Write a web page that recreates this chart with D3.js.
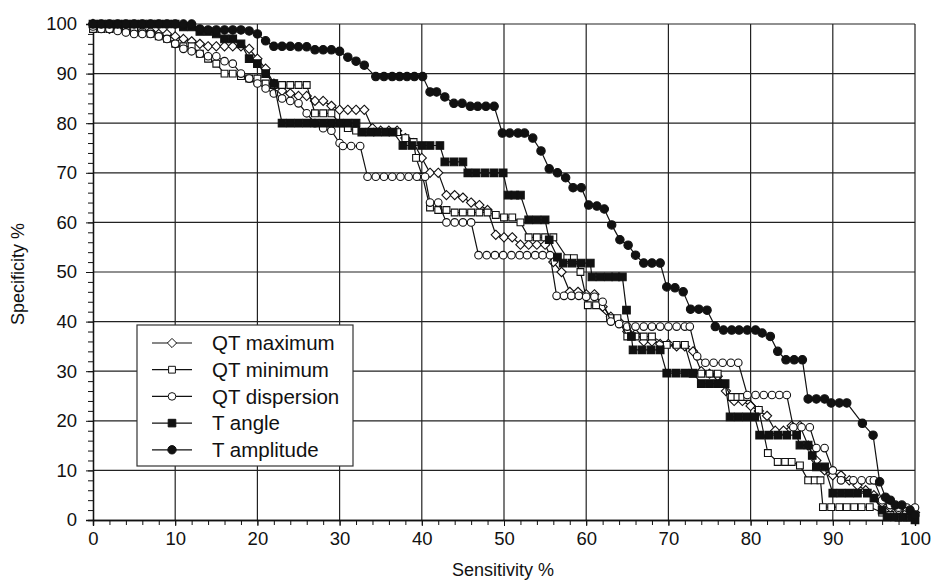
<!DOCTYPE html>
<html>
<head>
<meta charset="utf-8">
<script src="https://cdn.jsdelivr.net/npm/d3@7"></script>
<style>
  body { margin: 0; background: #fff; }
  text { font-family: "Liberation Sans", Arial, Helvetica, sans-serif; fill: #111; }
</style>
</head>
<body>
<script>
// [sensitivity %, specificity %]
const qtMaximum = [[0,100],[1,99.5],[2,99],[3,99],[4,98.5],[5,98.5],[6,98.5],[7,98.5],[8,98],[9,98],[10,97.5],[11,97],[12,96.5],[13,96],[14,95.5],[15,95.5],[16,95.5],[17,95.5],[18,95.5],[19,95],[20,93],[21,91],[22,88],[23,86.5],[24,86],[25,85.5],[26,85.5],[27,84.5],[28,84.5],[29,83.5],[30,82.7],[31,82.7],[32,82.7],[33,82.7],[34,79],[35,78.5],[36,78.5],[37,78.5],[38,77],[39,76],[40,73],[41,70],[42,70],[43,65.5],[44,65.5],[45,65],[46,64],[47,63.5],[48,62.5],[49,57.5],[50,57],[51,57],[52,55.5],[53,55.5],[54,55.5],[55,55.5],[56,52],[57,50],[58,46],[59,46],[60,45.5],[61,45.5],[62,43],[63,41],[64,40],[65,38],[66,37.5],[67,36],[68,36],[69,35.5],[70,35.5],[71,35],[72,35],[73,34],[74,30],[75,29.5],[76,29],[77,26],[78,24],[79,24],[80,23],[81,22],[82,21],[83,18],[84,18],[85,19],[86,19],[87,15],[88,12],[89,10],[90,9],[91,9],[92,8],[93,7],[94,6],[95,5],[96,3.5],[97,2.5],[98,2],[99,1.5],[100,1.5]];

const qtMinimum = [[0,99],[1,99],[2,99],[3,99],[4,99],[5,98.6],[6,98.3],[7,98],[8,97.5],[9,97],[10,96],[11,95.5],[12,95.5],[13,94],[14,93],[15,92],[16,90],[17,90],[18,89.5],[19,89],[20,89],[21,88],[22,87.7],[23,87.7],[24,87.7],[25,87.7],[26,87.7],[27,82],[28,82],[29,82],[30,80],[31,79],[32,78.5],[33,78.2],[34,78.2],[35,78.2],[36,78.2],[37,78.2],[38,77],[39,76.2],[39.3,73],[40.1,69.2],[41,63],[42,62.5],[43,62.5],[44,62],[45,62],[46,62],[47,62],[48,62],[49,61.5],[50,61],[51,61],[52,60],[53,57],[54,57],[55,57],[56,57],[57.7,52.8],[58.5,52.8],[59.3,50],[60.2,43.3],[61.2,43.3],[62.9,40.7],[63.8,40.7],[65,37],[66,37],[67,37],[68,37],[69.8,35.3],[71,35.3],[72,35.3],[73,29.5],[74,29.5],[75,29.5],[76,29.5],[77.7,24.8],[78.4,24.8],[79,24.8],[79.6,24.8],[81,22.2],[82.1,13.5],[83.3,11.7],[84.2,11.7],[85,11.7],[86,11],[87,8],[87.8,8],[88.5,8],[88.8,2.6],[89.8,2.6],[90.8,2.6],[91.7,2.6],[92.6,2.6],[93.5,2.6],[94.5,2.6],[96,1.5],[97,1],[98,0.5],[99,0.5],[100,0]];

const qtDispersion = [[0,99.5],[1,99],[2,99],[3,98.6],[4,98.3],[5,98],[6,98],[7,98],[8,97.5],[9,97],[10,96],[11,95],[12,94.5],[13,94],[14,93.5],[15,93.5],[16,92.5],[17,92],[18,90],[19,89],[20,88],[21,87],[22,86],[23,85],[24,84.5],[25,84],[26,82],[27,80],[28,79],[29,78.5],[30,76],[30.4,75.4],[31.4,75.4],[32.5,75.4],[33.4,69.2],[34.4,69.2],[35.4,69.2],[36.4,69.2],[37.4,69.2],[38.4,69.2],[39.4,69.2],[40.4,69.2],[41,64],[42,64],[43,60],[44,60],[45,60],[46,60],[46.9,53.4],[47.9,53.4],[48.9,53.4],[49.9,53.4],[50.9,53.4],[51.9,53.4],[52.8,53.4],[53.8,53.4],[54.7,53.4],[55.6,53.4],[56.4,45.2],[57.3,45.2],[58.2,45.2],[59.1,45.2],[60,45],[61,45],[62,44],[63,40],[64,39.5],[65,39],[66,39],[67,39],[68,39],[69,39],[70,39],[71,39],[72,39],[72.6,39],[73.5,33],[74.5,31.7],[75.5,31.7],[76.6,31.7],[77.6,31.7],[78.5,31.7],[79.6,25.2],[80.6,25.2],[81.6,25.2],[82.6,25.2],[83.5,25.2],[84.4,25.2],[85.2,18.7],[86.2,18.7],[87.2,18.7],[88,14.5],[89,14.5],[90,10],[91,8],[92.5,8],[93.5,8],[94.5,8],[95,8],[96,4],[97,3],[98,2.5],[99,2.5],[100,2.5]];

const tAngle = [[0,100],[1,100],[2,100],[3,100],[4,100],[5,100],[6,100],[7,100],[8,100],[9,100],[10,100],[11,99.4],[12,99.4],[13,98.5],[14,98.5],[15,98],[16,97],[17,97],[18,96],[19,93],[20,92],[21,90],[22,88],[23,80],[24,80],[25,80],[26,80],[27,80],[28,80],[29,80],[30,80],[31,80],[32,80],[32.7,78.2],[33.7,78.2],[34.6,78.2],[35.6,78.2],[36.5,78.2],[37.7,75.5],[38.8,75.5],[40,75.5],[41,75.5],[42.2,75.5],[42.8,72.2],[43.9,72.2],[45,72.2],[45.6,70],[46.6,70],[47.7,70],[48.8,70],[49.9,70],[50.5,65.5],[51.3,65.5],[52,65.5],[53,60.5],[54,60.5],[55,60.5],[55.5,56.5],[56.5,53],[57.2,51.8],[58.3,51.8],[59.4,51.8],[60.5,51.8],[60.7,49],[61.7,49],[62.7,49],[63.6,49],[64.4,49],[64.9,42.3],[65.5,37],[65.7,34.3],[66.8,34.3],[67.9,34.3],[69,34.3],[69.8,29.6],[70.9,29.6],[72,29.6],[73,29.6],[74,27.5],[75,27.5],[76,27.5],[76.9,27.5],[77.5,20.8],[78.5,20.8],[79.5,20.8],[80.5,20.8],[81.1,17.1],[82.2,17.1],[83.3,17.1],[84.4,17.1],[85.6,17.1],[86,15.1],[87,15.1],[87.5,13],[88,10.7],[89,10.7],[90,5.4],[91,5.4],[92,5.4],[93,5.4],[94.2,5.4],[95,4.4],[96,2],[96.6,0.6],[97.5,0.6],[98.5,0.6],[99.5,0.6],[100,0]];

const tAmplitude = [[0,100],[1,100],[2,100],[3,100],[4,100],[5,100],[6,100],[7,100],[8,100],[9,100],[10,100],[11,100],[12,100],[13,99],[14,98.8],[15,98.8],[16,98.8],[17,98.8],[18,98.8],[19,98.6],[20,98],[21,96.6],[22,95.5],[23,95.5],[24,95.5],[25,95.4],[26,95.4],[27,94.8],[28,94.8],[29,94.8],[30,94.5],[31,93.3],[32,92.5],[33,91.7],[34.4,89.4],[35.4,89.4],[36.4,89.4],[37.3,89.4],[38.2,89.4],[39.1,89.4],[40.1,89.4],[41,86.3],[41.8,86.3],[42.8,85.3],[43.9,84],[44.9,84],[45.9,83.4],[46.8,83.4],[47.8,83.4],[48.8,83.4],[49.8,78],[50.7,78],[51.7,78],[52.5,78],[53.5,77],[54.5,74.4],[55.5,70.8],[56.5,70],[57.5,69],[58.4,67],[59.4,67],[60.3,63.5],[61.3,63.3],[62.2,62.7],[63.1,59.5],[64.1,56.5],[65.1,55.4],[66,53.4],[67,51.8],[68,51.8],[69,51.8],[69.8,47],[70.8,46.8],[71.8,46],[72.7,42.5],[73.7,42.5],[74.7,42.3],[75.7,39],[76.7,38.3],[77.7,38.3],[78.6,38.3],[79.6,38.3],[80.6,38.3],[81.4,37.7],[82.4,37],[83.3,34],[84.3,32.3],[85.3,32.3],[86.3,32.3],[87,24.4],[88,24.4],[89,24.4],[89.8,23.6],[90.8,23.6],[91.7,23.6],[93.6,19.5],[94.9,17.1],[95.7,7.7],[96.4,4.6],[97,4],[97.6,3],[98.4,3],[99.4,2],[100,1]];

const seriesNames = ["QT maximum", "QT minimum", "QT dispersion", "T angle", "T amplitude"];
const seriesMarkers = ["diamond", "square", "circle", "square", "circle"];
const seriesFilled = [false, false, false, true, true];
const seriesData = [qtMaximum, qtMinimum, qtDispersion, tAngle, tAmplitude];

const ticks = d3.range(0, 101, 10);
const minorTicks = d3.range(0, 101, 2);

const margin = { top: 24, right: 19, bottom: 61, left: 93 };
const width = 934 - margin.left - margin.right;
const height = 581 - margin.top - margin.bottom;

const x = d3.scaleLinear().domain([0, 100]).range([0, width]);
const y = d3.scaleLinear().domain([0, 100]).range([height, 0]);

const svg = d3.select("body")
  .append("svg")
  .attr("width", 934)
  .attr("height", 581)
  .append("g")
  .attr("transform", `translate(${ margin.left }, ${ margin.top })`);

// grid
svg.append("g")
  .selectAll("line")
  .data(ticks.slice(1))
  .enter().append("line")
  .attr("x1", d => x(d)).attr("x2", d => x(d))
  .attr("y1", 0).attr("y2", height)
  .attr("stroke", "#222").attr("stroke-width", 1.2);

svg.append("g")
  .selectAll("line")
  .data(ticks.slice(1))
  .enter().append("line")
  .attr("x1", 0).attr("x2", width)
  .attr("y1", d => y(d)).attr("y2", d => y(d))
  .attr("stroke", "#222").attr("stroke-width", 1.2);

// axes
const xMinor = svg.append("g")
  .attr("transform", `translate(0, ${ height })`)
  .call(d3.axisBottom(x).tickValues(minorTicks).tickSize(5).tickFormat(""));
const xMajor = svg.append("g")
  .attr("transform", `translate(0, ${ height })`)
  .call(d3.axisBottom(x).tickValues(ticks).tickSize(6).tickPadding(6));
const yMinor = svg.append("g")
  .call(d3.axisLeft(y).tickValues(minorTicks).tickSize(5).tickFormat(""));
const yMajor = svg.append("g")
  .call(d3.axisLeft(y).tickValues(ticks).tickSize(7).tickPadding(9));

[xMinor, xMajor, yMinor, yMajor].forEach(g => {
  g.select(".domain").attr("stroke", "#111").attr("stroke-width", 1.3);
  g.selectAll(".tick line").attr("stroke", "#111");
  g.selectAll("text").style("font-size", "18.5px").attr("fill", "#111")
    .style("font-family", "'Liberation Sans', Arial, sans-serif");
});

svg.append("text")
  .attr("transform", "rotate(-90)")
  .attr("x", -height / 2 - 2)
  .attr("y", -margin.left + 24)
  .style("text-anchor", "middle")
  .style("font-size", "18px")
  .text("Specificity %");

svg.append("text")
  .attr("x", width / 2 - 1)
  .attr("y", height + 56)
  .style("text-anchor", "middle")
  .style("font-size", "18px")
  .text("Sensitivity %");

// markers
function markerPath(type, filled) {
  if (type === "diamond") return "M0,-4.6L4.6,0L0,4.6L-4.6,0Z";
  if (type === "square") return filled ? "M-3.8,-3.8H3.8V3.8H-3.8Z" : "M-3.4,-3.4H3.4V3.4H-3.4Z";
  const r = filled ? 4.2 : 3.8;
  return `M${ r },0A${ r },${ r } 0 1,1 ${ -r },0A${ r },${ r } 0 1,1 ${ r },0Z`;
}

const line = d3.line()
  .x(d => x(d[0]))
  .y(d => y(d[1]));

seriesData.forEach((data, i) => {
  const g = svg.append("g");
  g.append("path")
    .datum(data)
    .attr("fill", "none")
    .attr("stroke", "#111")
    .attr("stroke-width", 1.2)
    .attr("d", line);
  g.selectAll("path.mk")
    .data(data)
    .enter().append("path")
    .attr("class", "mk")
    .attr("transform", d => `translate(${ x(d[0]) }, ${ y(d[1]) })`)
    .attr("d", markerPath(seriesMarkers[i], seriesFilled[i]))
    .attr("fill", seriesFilled[i] ? "#111" : "#fff")
    .attr("stroke", "#111")
    .attr("stroke-width", 1.1);
});

// legend
const legend = svg.append("g")
  .attr("transform", `translate(${ 137 - margin.left }, ${ 325 - margin.top })`);

legend.append("rect")
  .attr("width", 216)
  .attr("height", 141)
  .attr("fill", "#fff")
  .attr("stroke", "#333")
  .attr("stroke-width", 1.2);

seriesNames.forEach((name, i) => {
  const row = legend.append("g").attr("transform", `translate(0, ${ 18 + i * 26.7 })`);
  row.append("line")
    .attr("x1", 15).attr("x2", 55)
    .attr("stroke", "#111").attr("stroke-width", 1.2);
  row.append("path")
    .attr("transform", "translate(35, 0)")
    .attr("d", markerPath(seriesMarkers[i], seriesFilled[i]))
    .attr("fill", seriesFilled[i] ? "#111" : "#fff")
    .attr("stroke", "#111");
  row.append("text")
    .attr("x", 75)
    .attr("dy", "0.36em")
    .style("font-size", "20.5px")
    .text(name);
});
</script>
</body>
</html>
